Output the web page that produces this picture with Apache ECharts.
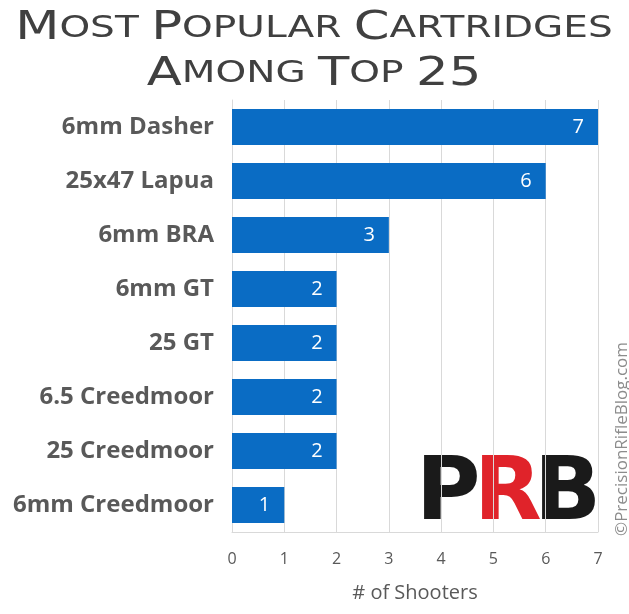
<!DOCTYPE html>
<html><head><meta charset="utf-8">
<script src="https://cdn.jsdelivr.net/npm/echarts@6/dist/echarts.min.js"></script>
<style>html,body{margin:0;padding:0;background:#fff}#c{width:629px;height:614px}</style>
</head><body><div id="c"></div>
<script>
const categories = ["6mm Dasher","25x47 Lapua","6mm BRA","6mm GT","25 GT","6.5 Creedmoor","25 Creedmoor","6mm Creedmoor"];
const shooters = [7,6,3,2,2,2,2,1];
const xTicks = [0,1,2,3,4,5,6,7];
const titleText = '{b|M}{s|OST }{b|P}{s|OPULAR }{b|C}{s|ARTRIDGES}\n{b|A}{s|MONG }{b|T}{s|OP }{b|25}';

const chart = echarts.init(document.getElementById('c'));
const titleFont = "DejaVu Sans";
chart.setOption({
  animation:false,
  backgroundColor:'#fff',
  grid:{left:232,right:31,top:100,bottom:82,containLabel:false},
  xAxis:{
    type:'value',min:0,max:7,interval:1,
    axisLine:{show:true,lineStyle:{color:'#d9d9d9'}},
    axisTick:{show:false},
    splitLine:{show:true,lineStyle:{color:'#d9d9d9',width:1}},
    axisLabel:{color:'#595959',fontFamily:'Open Sans',fontSize:16,margin:19,
      formatter:v=>xTicks.includes(v)?String(v):''},
    name:'# of Shooters',nameLocation:'middle',nameGap:51,
    nameTextStyle:{color:'#595959',fontFamily:'Open Sans',fontSize:20}
  },
  yAxis:{
    type:'category',data:categories,inverse:true,
    axisLine:{show:true,lineStyle:{color:'#d9d9d9'}},
    axisTick:{show:false},
    axisLabel:{color:'#595959',fontFamily:'Open Sans',fontWeight:'bold',fontSize:24,margin:18}
  },
  series:[{
    type:'bar',data:shooters,barCategoryGap:'33%',
    itemStyle:{color:'#0a6cc4'},
    label:{show:true,position:'insideRight',color:'#fff',fontFamily:'Open Sans',fontSize:20,distance:14}
  }],
  graphic:[
    {type:'text',x:314,y:6,scaleX:1.22,scaleY:0.95,originX:0,originY:0,
     style:{text:titleText,textAlign:'center',lineHeight:48,
      rich:{
        b:{fontFamily:titleFont,fontWeight:'normal',fontSize:42,fill:'#404040',lineHeight:48},
        s:{fontFamily:titleFont,fontWeight:'normal',fontSize:32,fill:'#404040',lineHeight:48}
      }}},
    {type:'text',left:416,top:452,style:{text:'P',font:'bold 88px "DejaVu Sans"',fill:'#1a1a1a'}},
    {type:'text',left:474,top:452,style:{text:'R',font:'bold 88px "DejaVu Sans"',fill:'#e0232a'}},
    {type:'text',left:534,top:452,style:{text:'B',font:'bold 88px "DejaVu Sans"',fill:'#1a1a1a'}},
    {type:'text',x:622,y:536,rotation:Math.PI/2,style:{text:'©PrecisionRifleBlog.com',font:'17px "Open Sans"',fill:'#8c8c8c',textAlign:'left',textVerticalAlign:'middle'}}
  ]
});
</script></body></html>
